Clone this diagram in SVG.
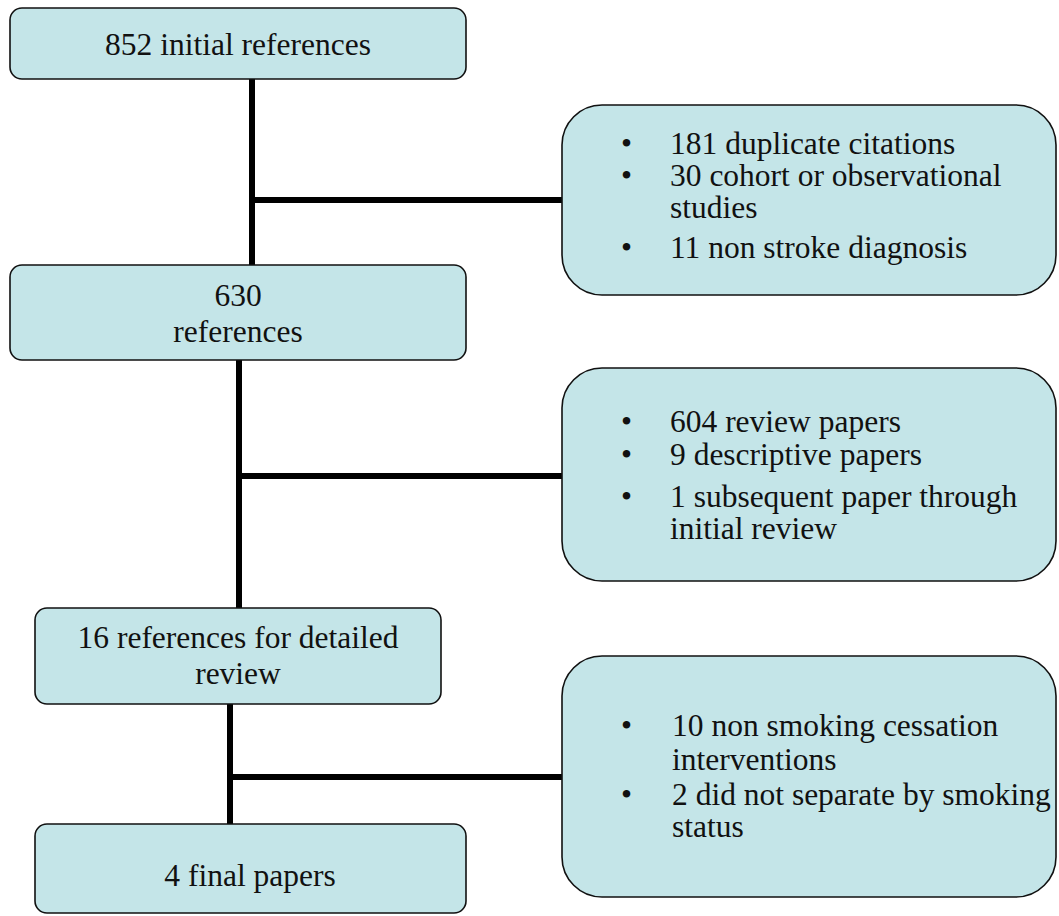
<svg xmlns="http://www.w3.org/2000/svg" width="1059" height="916" viewBox="0 0 1059 916">
<style>
.box{fill:#C4E5E8;stroke:#111;stroke-width:1.6}
.c{text-anchor:middle}
.conn{stroke:#000;stroke-width:6;fill:none}
</style>
<rect width="1059" height="916" fill="#fff"/>
<g id="connectors">
<line class="conn" x1="252" y1="79" x2="252" y2="265"/>
<line class="conn" x1="249" y1="200" x2="563" y2="200"/>
<line class="conn" x1="239" y1="360" x2="239" y2="608"/>
<line class="conn" x1="236" y1="476" x2="563" y2="476"/>
<line class="conn" x1="230" y1="704" x2="230" y2="824"/>
<line class="conn" x1="227" y1="777" x2="563" y2="777"/>
</g>
<g font-family="'Liberation Serif', 'Times New Roman', serif" font-size="31.5" fill="#111">
<g id="n1">
<rect class="box" x="10" y="8" width="456" height="71" rx="12"/>
<text class="c" x="238" y="55">852 initial references</text>
</g>
<g id="n2">
<rect class="box" x="10" y="265" width="456" height="95" rx="12"/>
<text class="c" x="238" y="306">630</text>
<text class="c" x="238" y="342">references</text>
</g>
<g id="n3">
<rect class="box" x="35" y="608" width="406" height="96" rx="12"/>
<text class="c" x="238" y="648">16 references for detailed</text>
<text class="c" x="238" y="684">review</text>
</g>
<g id="n4">
<rect class="box" x="35" y="824" width="431" height="89" rx="12"/>
<text class="c" x="250" y="886">4 final papers</text>
</g>
<g id="e1">
<rect class="box" x="562" y="105" width="494" height="190" rx="40"/>
<text x="621" y="154">•</text><text x="670" y="154">181 duplicate citations</text>
<text x="621" y="186">•</text><text x="670" y="186">30 cohort or observational</text>
<text x="670" y="218">studies</text>
<text x="621" y="258">•</text><text x="670" y="258">11 non stroke diagnosis</text>
</g>
<g id="e2">
<rect class="box" x="562" y="368" width="494" height="213" rx="40"/>
<text x="621" y="432">•</text><text x="670" y="432">604 review papers</text>
<text x="621" y="465">•</text><text x="670" y="465">9 descriptive papers</text>
<text x="621" y="507">•</text><text x="670" y="507">1 subsequent paper through</text>
<text x="670" y="539">initial review</text>
</g>
<g id="e3">
<rect class="box" x="562" y="656" width="494" height="241" rx="40"/>
<text x="621" y="736">•</text><text x="672" y="736">10 non smoking cessation</text>
<text x="672" y="770">interventions</text>
<text x="621" y="805">•</text><text x="672" y="805">2 did not separate by smoking</text>
<text x="672" y="837">status</text>
</g>
</g>
</svg>
